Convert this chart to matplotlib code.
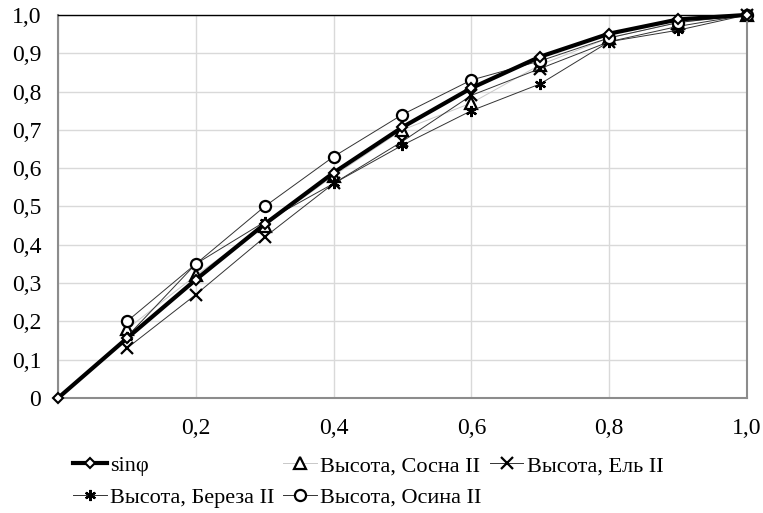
import matplotlib
matplotlib.use("Agg")
import matplotlib.pyplot as plt
from matplotlib.ticker import FuncFormatter, MultipleLocator

plt.rcParams['font.family'] = ['Liberation Serif', 'DejaVu Serif']

# data
x_sin = [0, 0.1, 0.2, 0.3, 0.4, 0.5, 0.6, 0.7, 0.8, 0.9, 1.0]
sin_phi = [0, 0.156, 0.309, 0.454, 0.588, 0.707, 0.809, 0.891, 0.951, 0.988, 1.0]

x_h = [0.1, 0.2, 0.3, 0.4, 0.5, 0.6, 0.7, 0.8, 0.9, 1.0]
sosna = [0.18, 0.32, 0.45, 0.58, 0.70, 0.77, 0.87, 0.94, 0.98, 1.0]
el = [0.13, 0.27, 0.42, 0.56, 0.67, 0.79, 0.86, 0.93, 0.97, 1.0]
bereza = [0.16, 0.35, 0.46, 0.56, 0.66, 0.75, 0.82, 0.93, 0.96, 1.0]
osina = [0.20, 0.35, 0.50, 0.63, 0.74, 0.83, 0.88, 0.94, 0.98, 1.0]

fig = plt.figure(figsize=(7.63, 5.13), dpi=100)
ax = fig.add_axes([0.076, 0.224, 0.903, 0.747])

thin = dict(lw=0.7, ms=8, mec='black', mew=1.6, clip_on=False)
ax.plot(x_h, sosna, color='#c8c8c8', marker='^', mfc='white', label='Высота, Сосна II', **thin)
ax.plot(x_h, el, color='#333333', marker='x', label='Высота, Ель II', **thin)
ax.plot(x_h, bereza, color='#333333', marker=(6, 2, 0), label='Высота, Береза II', **thin)
ax.plot(x_h, osina, color='#333333', marker='o', mfc='white', label='Высота, Осина II', **thin)
ax.plot(x_sin, sin_phi, color='black', lw=3, marker='D', ms=5.5, mfc='white',
        mec='black', mew=1.5, label='sinφ', zorder=5, clip_on=False)

ax.set_xlim(0, 1.0)
ax.set_ylim(0, 1.0)
ax.xaxis.set_major_locator(MultipleLocator(0.2))
ax.yaxis.set_major_locator(MultipleLocator(0.1))
comma = lambda v, p: '0' if abs(v) < 1e-9 else f'{v:.1f}'.replace('.', ',')
ax.yaxis.set_major_formatter(FuncFormatter(comma))
ax.xaxis.set_major_formatter(FuncFormatter(lambda v, p: '' if abs(v) < 1e-9 else comma(v, p)))
ax.tick_params(length=0, labelsize=17, pad=12)
ax.tick_params(axis='x', pad=14)
ax.grid(True, color='#d9d9d9', lw=1)
ax.set_axisbelow(True)
for s in ['left', 'bottom', 'right']:
    ax.spines[s].set_color('#8c8c8c')
    ax.spines[s].set_linewidth(1.5)
ax.spines['top'].set_color('black')
ax.spines['top'].set_linewidth(1)

h, l = ax.get_legend_handles_labels()
order = [4, 2, 0, 3, 1]  # column-wise: sin, Береза / Сосна, Осина / Ель
fig.legend([h[i] for i in order], [l[i] for i in order], ncol=3, loc='upper left',
           bbox_to_anchor=(0.096, 0.112), frameon=False, fontsize=16,
           handlelength=1.5, handletextpad=0.15, columnspacing=0.4,
           labelspacing=0.5, borderpad=0, borderaxespad=0)

fig.savefig('out.png', dpi=100)
